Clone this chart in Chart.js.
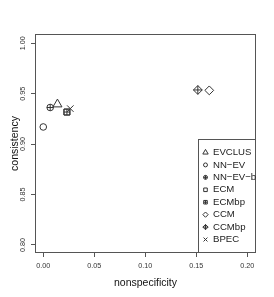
<!DOCTYPE html>
<html>
<head>
<meta charset="utf-8">
<script src="https://cdn.jsdelivr.net/npm/chart.js"></script>
<style>
  html, body { margin: 0; padding: 0; background: #fff; }
</style>
</head>
<body>
<canvas id="myChart" width="274" height="297"></canvas>
<script>
var ctx = document.getElementById("myChart");

// values (R draws "-" as a minus sign)
const methods = ["EVCLUS", "NN\u2212EV", "NN\u2212EV\u2212b", "ECM", "ECMbp", "CCM", "CCMbp", "BPEC"];
const nonspecificity = [0.0139, 0.0, 0.0068, 0.0232, 0.0232, 0.1627, 0.1515, 0.0265];
const consistency = [0.9395, 0.917, 0.9363, 0.9318, 0.9318, 0.9533, 0.9537, 0.9352];
const xTicks = [0, 0.05, 0.1, 0.15, 0.2];
const yTicks = [0.8, 0.85, 0.9, 0.95, 1.0];

// R-like plotting symbols (pch 2, 1, 10, 0, 12, 5, 9, 4), same order as methods
const symbols = [
  { style: "triangle", r: 5.2 },
  { style: "circle", r: 3.3 },
  { style: "circle", r: 3.3, plus: 3.3 },
  { style: "rect", r: 4.2 },
  { style: "rect", r: 4.2, plus: 3.0 },
  { style: "rectRot", r: 4.4 },
  { style: "rectRot", r: 4.4, plus: 4.4 },
  { style: "crossRot", r: 4.6 },
];
const ink = "#333";
const frame = "#555";
const font = "'Liberation Sans', Arial, Helvetica, sans-serif";

const datasets = [];
methods.forEach((m, i) => {
  const s = symbols[i];
  const pt = [{ x: nonspecificity[i], y: consistency[i] }];
  datasets.push({
    label: m,
    data: pt,
    pointStyle: s.style,
    pointRadius: s.r,
    borderColor: ink,
    backgroundColor: "rgba(0,0,0,0)",
    borderWidth: 1,
  });
  if (s.plus) {
    datasets.push({
      label: m + " plus",
      data: pt,
      pointStyle: "cross",
      pointRadius: s.plus,
      borderColor: ink,
      backgroundColor: "rgba(0,0,0,0)",
      borderWidth: 1,
    });
  }
});

// box round the plot and the legend in the bottom right corner
const boxAndLegend = {
  id: "boxAndLegend",
  afterDraw(chart) {
    const c = chart.ctx;
    const a = chart.chartArea;
    c.save();
    c.strokeStyle = frame;
    c.lineWidth = 1;
    const L = Math.round(a.left) + 0.5, T = Math.round(a.top) + 0.5;
    const R = Math.round(a.right) - 0.5, B = Math.round(a.bottom) - 0.5;
    c.strokeRect(L, T, R - L, B - T);

    // legend (clipped by the plot region like in R)
    c.beginPath();
    c.rect(a.left, a.top, a.right - a.left, a.bottom - a.top);
    c.clip();
    const lx = Math.round(a.right) - 57.5;
    const ly = Math.round(a.bottom) - 113.5;
    c.strokeRect(lx, ly, R - lx + 10, B - ly);
    c.font = "9.6px " + font;
    c.textBaseline = "middle";
    c.textAlign = "left";
    methods.forEach((m, i) => {
      const s = symbols[i];
      const y = ly + 13 + i * 12.43;
      const x = lx + 7;
      c.strokeStyle = ink;
      c.fillStyle = "rgba(0,0,0,0)";
      Chart.helpers.drawPoint(c, { pointStyle: s.style, radius: s.r * 0.6, rotation: 0, borderWidth: 1 }, x, y);
      if (s.plus) {
        Chart.helpers.drawPoint(c, { pointStyle: "cross", radius: s.plus * 0.6, rotation: 0, borderWidth: 1 }, x, y);
      }
      c.fillStyle = "#222";
      c.fillText(m, lx + 14.5, y);
    });
    c.restore();
  },
};

new Chart(ctx, {
  type: "scatter",
  data: { datasets },
  options: {
    responsive: false,
    animation: false,
    events: [],
    layout: { padding: { left: 0, right: 18, top: 34, bottom: 0 } },
    plugins: { legend: { display: false }, tooltip: { enabled: false } },
    scales: {
      x: {
        type: "linear",
        min: -0.0081,
        max: 0.2085,
        afterBuildTicks: (s) => { s.ticks = xTicks.map((v) => ({ value: v })); },
        afterFit: (s) => { s.height = 44; },
        border: { display: false },
        grid: { drawOnChartArea: false, drawTicks: true, tickLength: 4, color: frame },
        ticks: {
          autoSkip: false,
          maxRotation: 0,
          padding: 5,
          color: "#333",
          font: { family: font, size: 7.2 },
          callback: (v) => v.toFixed(2),
        },
        title: {
          display: true,
          text: "nonspecificity",
          color: "#111",
          font: { family: font, size: 10.5 },
          padding: { top: 0, bottom: 8 },
        },
      },
      y: {
        type: "linear",
        min: 0.792,
        max: 1.0092,
        afterBuildTicks: (s) => { s.ticks = yTicks.map((v) => ({ value: v })); },
        afterFit: (s) => { s.width = 35; },
        border: { display: false },
        grid: { drawOnChartArea: false, drawTicks: true, tickLength: 4, color: frame },
        ticks: {
          autoSkip: false,
          minRotation: 90,
          maxRotation: 90,
          crossAlign: "center",
          padding: 1,
          color: "#333",
          font: { family: font, size: 7.2 },
          callback: (v) => v.toFixed(2),
        },
        title: {
          display: true,
          text: "consistency",
          color: "#111",
          font: { family: font, size: 10.5 },
          padding: { top: 8.5, bottom: 0 },
        },
      },
    },
  },
  plugins: [boxAndLegend],
});
</script>
</body>
</html>
